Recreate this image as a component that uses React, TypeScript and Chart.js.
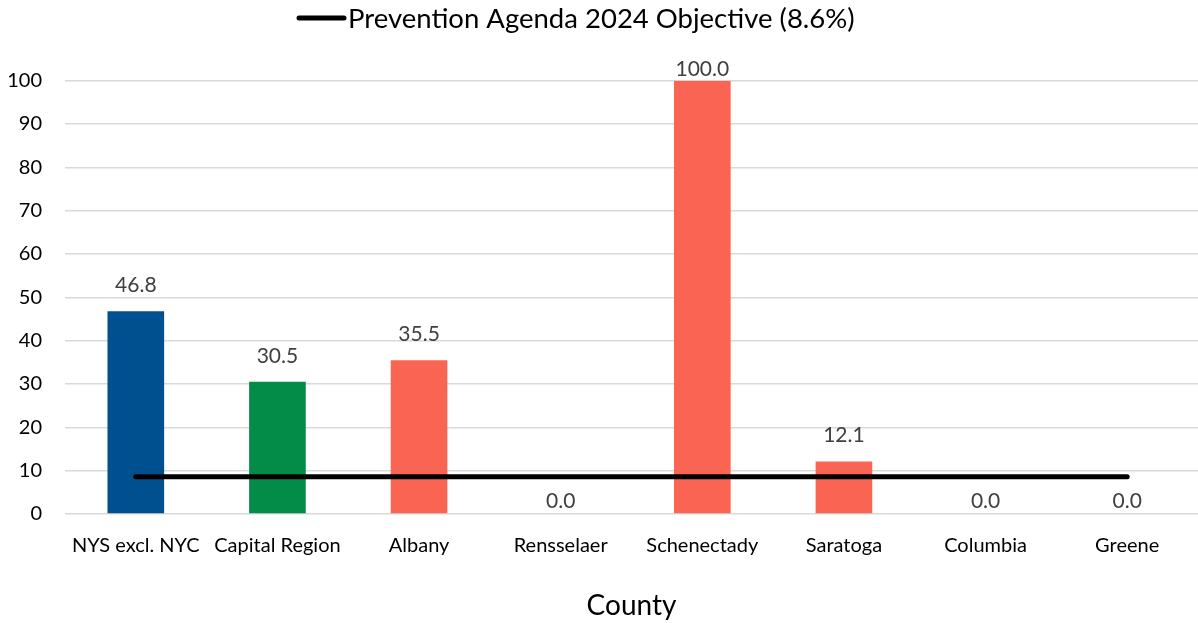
import React, { useEffect, useRef } from "react";
import { Chart, registerables } from "chart.js";

Chart.register(...registerables);

const categories = [
  "NYS excl. NYC",
  "Capital Region",
  "Albany",
  "Rensselaer",
  "Schenectady",
  "Saratoga",
  "Columbia",
  "Greene",
];
const rates = [46.8, 30.5, 35.5, 0.0, 100.0, 12.1, 0.0, 0.0];
const barColors = [
  "#00508F",
  "#038C47",
  "#FA6453",
  "#FA6453",
  "#FA6453",
  "#FA6453",
  "#FA6453",
  "#FA6453",
];
const objectiveValue = 8.6;
const objectiveLabel = "Prevention Agenda 2024 Objective (8.6%)";
const yTicks = [0, 10, 20, 30, 40, 50, 60, 70, 80, 90, 100];
const xTitle = "County";

const FONT = "Lato, 'Open Sans', sans-serif";

const legendAndLabels = {
  id: "legendAndLabels",
  afterDatasetsDraw(chart: any) {
    const ctx = chart.ctx;
    ctx.save();
    // data labels
    const meta = chart.getDatasetMeta(0);
    const top = chart.chartArea.top;
    ctx.font = `21px ${FONT}`;
    ctx.fillStyle = "#404040";
    ctx.textAlign = "center";
    ctx.textBaseline = "middle";
    meta.data.forEach((bar: any, i: number) => {
      const v = rates[i];
      let y = bar.y - (v > 0 ? 26 : 13);
      if (y < top - 11) y = top - 11;
      ctx.fillText(v.toFixed(1), bar.x, y);
    });
    // legend
    const lx1 = 299;
    const lx2 = 344;
    const ly = 18;
    ctx.strokeStyle = "#000";
    ctx.lineWidth = 5;
    ctx.lineCap = "round";
    ctx.beginPath();
    ctx.moveTo(lx1, ly);
    ctx.lineTo(lx2, ly);
    ctx.stroke();
    ctx.font = `27.5px ${FONT}`;
    ctx.fillStyle = "#000";
    ctx.textAlign = "left";
    ctx.textBaseline = "middle";
    ctx.fillText(objectiveLabel, 348, ly + 1);
    ctx.restore();
  },
};

export default function App() {
  const ref = useRef<HTMLCanvasElement | null>(null);
  useEffect(() => {
    if (!ref.current) return;
    const chart = new Chart(ref.current, {
      type: "bar",
      data: {
        labels: categories,
        datasets: [
          {
            type: "bar",
            label: "Rate",
            data: rates,
            backgroundColor: barColors,
            barPercentage: 0.4,
            categoryPercentage: 1.0,
            order: 2,
          },
          {
            type: "line",
            label: objectiveLabel,
            data: categories.map(() => objectiveValue),
            borderColor: "#000",
            borderWidth: 5,
            borderCapStyle: "round",
            pointRadius: 0,
            fill: false,
            order: 1,
          },
        ],
      },
      options: {
        animation: false,
        responsive: false,
        maintainAspectRatio: false,
        layout: { padding: { top: 80.7, left: 0, right: 0, bottom: 0 } },
        plugins: {
          legend: { display: false },
          tooltip: { enabled: false },
        },
        scales: {
          x: {
            offset: true,
            grid: { display: false, drawTicks: false },
            border: { display: false },
            ticks: {
              autoSkip: false,
              maxRotation: 0,
              minRotation: 0,
              padding: 20,
              color: "#000",
              font: { family: FONT, size: 20 },
            },
            title: {
              display: true,
              text: xTitle,
              color: "#000",
              font: { family: FONT, size: 28 },
              padding: { top: 0, bottom: 0 },
            },
            afterFit(scale: any) {
              scale.height = 109;
            },
          },
          y: {
            min: 0,
            max: 100,
            afterBuildTicks(scale: any) {
              scale.ticks = yTicks.map((v) => ({ value: v }));
            },
            grid: { color: "#D9D9D9", lineWidth: 1.5, drawTicks: false },
            border: { display: false },
            ticks: {
              padding: 23,
              color: "#000",
              font: { family: FONT, size: 20 },
            },
            afterFit(scale: any) {
              scale.width = 65;
            },
          },
        },
      },
      plugins: [legendAndLabels],
    });
    return () => chart.destroy();
  }, []);
  return (
    <div style={{ position: "fixed", left: 0, top: 0, width: 1198, height: 623, background: "#fff" }}>
      <canvas ref={ref} width={1198} height={623} style={{ width: 1198, height: 623 }} />
    </div>
  );
}
